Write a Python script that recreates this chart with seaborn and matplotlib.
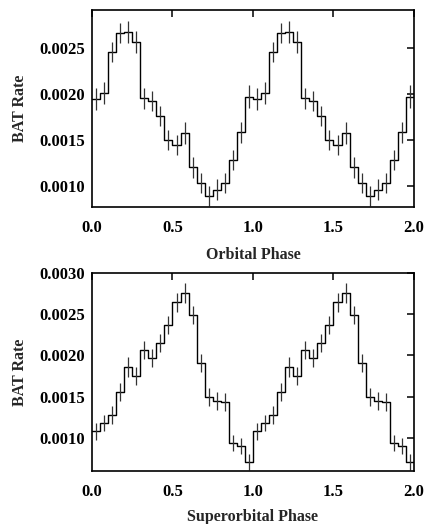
import numpy as np
import pandas as pd
import matplotlib
matplotlib.use("Agg")
import matplotlib.pyplot as plt
import seaborn as sns

# One cycle of phase-folded BAT rates (20 bins, width 0.05); the plot shows two cycles
orb_rate = [0.00194, 0.00201, 0.00245, 0.00266, 0.00267, 0.00256, 0.00195, 0.00192,
            0.00176, 0.00150, 0.00144, 0.00157, 0.00120, 0.00103, 0.00089, 0.00096,
            0.00103, 0.00128, 0.00158, 0.00197]
orb_err = [0.00012, 0.00012, 0.00011, 0.00011, 0.00012, 0.00012, 0.00011, 0.00011,
           0.00011, 0.00011, 0.00011, 0.00012, 0.00011, 0.00011, 0.00011, 0.00011,
           0.00011, 0.00011, 0.00011, 0.00012]
sup_rate = [0.00108, 0.00118, 0.00128, 0.00156, 0.00186, 0.00175, 0.00206, 0.00197,
            0.00215, 0.00237, 0.00264, 0.00275, 0.00249, 0.00191, 0.00150, 0.00145,
            0.00144, 0.00094, 0.00090, 0.00071]
sup_err = [0.00010, 0.00010, 0.00011, 0.00011, 0.00012, 0.00011, 0.00011, 0.00011,
           0.00011, 0.00011, 0.00011, 0.00012, 0.00011, 0.00011, 0.00011, 0.00011,
           0.00011, 0.00010, 0.00010, 0.00010]
n_cycles = 2
bin_width = 0.05

xticks = [0.0, 0.5, 1.0, 1.5, 2.0]
orb_yticks = [0.0010, 0.0015, 0.0020, 0.0025]
sup_yticks = [0.0010, 0.0015, 0.0020, 0.0025, 0.0030]

sns.set_theme(style="white")
plt.rcParams['font.family'] = ['Liberation Serif', 'DejaVu Serif']
plt.rcParams['font.weight'] = 'bold'

fig = plt.figure(figsize=(4.27, 5.24), dpi=100)
ax1 = fig.add_axes([92/427, 1-207/524, (414-92)/427, (207-10)/524])
ax2 = fig.add_axes([92/427, 1-471/524, (414-92)/427, (471-272.7)/524])


def draw(ax, rate, err, xlabel, ylim, yticks, xlabelpad):
    r = np.concatenate([rate] * n_cycles)
    e = np.concatenate([err] * n_cycles)
    nb = len(r)
    edges = np.arange(nb + 1) * bin_width
    centers = edges[:-1] + bin_width / 2
    df = pd.DataFrame({"x": edges, "y": np.append(r, r[-1])})
    sns.lineplot(data=df, x="x", y="y", ax=ax, drawstyle="steps-post",
                 color="black", lw=1.0, estimator=None, sort=False)
    ax.errorbar(centers, r, yerr=e, fmt="none", ecolor="#333333", elinewidth=0.9, capsize=0)
    ax.set_xlim(0, 2.0)
    ax.set_ylim(*ylim)
    ax.set_xticks(xticks)
    ax.set_xticklabels([f"{t:.1f}" for t in xticks])
    ax.set_yticks(yticks)
    ax.set_yticklabels([f"{t:.4f}" for t in yticks])
    ax.tick_params(direction="in", length=5, width=1.1, top=True, right=True,
                   labelsize=12, pad=5, colors="black")
    ax.tick_params(axis="x", pad=9)
    for lab in ax.get_xticklabels() + ax.get_yticklabels():
        lab.set_fontweight("bold")
    ax.set_xlabel(xlabel, fontsize=11.5, fontweight="bold", labelpad=xlabelpad)
    ax.set_ylabel("BAT Rate", fontsize=11.5, fontweight="bold", labelpad=8)
    for s in ax.spines.values():
        s.set_color("black")
        s.set_linewidth(1.2)


draw(ax1, orb_rate, orb_err, "Orbital Phase", (0.00077, 0.00291), orb_yticks, 8)
draw(ax2, sup_rate, sup_err, "Superorbital Phase", (0.00060, 0.00300), sup_yticks, 7)

fig.savefig("out.png", dpi=100)
